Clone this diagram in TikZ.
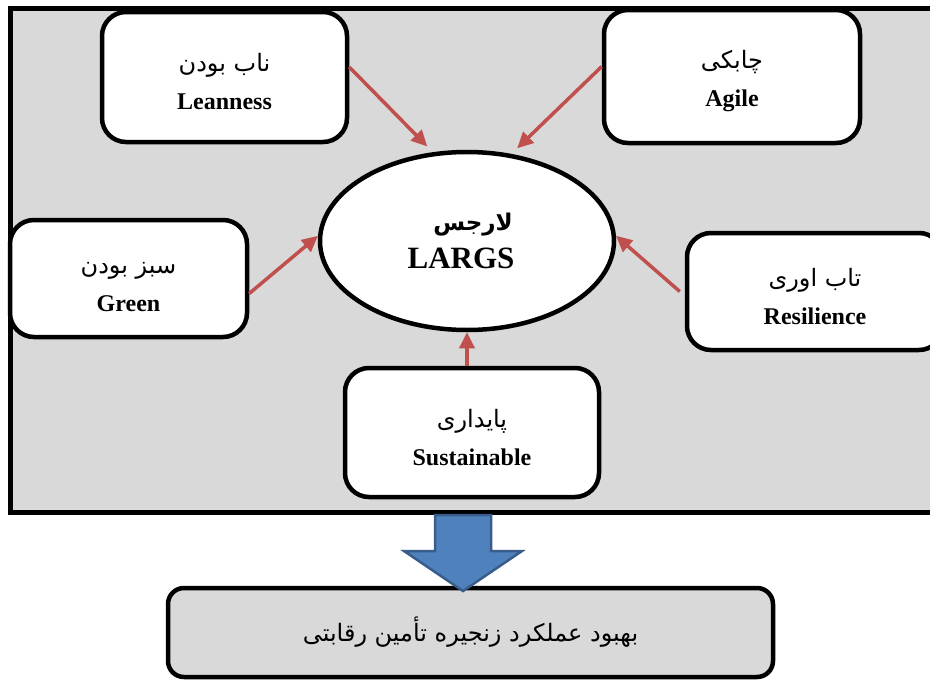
\documentclass[tikz,border=0pt]{standalone}
\usepackage{fontspec}
\setmainfont{Liberation Serif}
\newfontfamily\farsi[Script=Arabic]{DejaVu Sans}
\TeXXeTstate=1
\usetikzlibrary{arrows.meta,shapes.geometric}
\definecolor{panelgray}{HTML}{D9D9D9}
\definecolor{linkred}{HTML}{C0504D}
\definecolor{blockblue}{HTML}{4F81BD}
\definecolor{blockedge}{HTML}{385D8A}
\tikzset{
cbox/.style={draw, line width=4.5pt, rounded corners=24pt, fill=white, align=center, inner sep=0pt, font=\fontsize{24}{28}\selectfont},
link/.style={draw=linkred, line width=3.5pt, -{Triangle[length=16pt,width=15pt]}}
}
\begin{document}
\begin{tikzpicture}[x=1pt,y=-1pt]
\useasboundingbox (0,0) rectangle (930,680);
\draw[line width=5pt, fill=panelgray] (10,8) rectangle (960,512);
\def\di#1#2#3#4#5#6#7{
\node[cbox, minimum width=#4, minimum height=#5] (#1) at (#2,#3) {\rule{0pt}{28pt}{\farsi\fontsize{24}{28}\selectfont #6}\\[10pt]\textbf{#7}};
}
\di{lean}{224.5}{77}{245}{130}{\beginR ناب بودن\endR}{Leanness}
\di{agile}{732}{76.5}{256}{133}{\beginR چابکی\endR}{Agile}
\di{green}{128.5}{278.5}{237}{117}{\beginR سبز بودن\endR}{Green}
\di{resil}{815}{291.5}{256}{117}{\beginR تاب اوری\endR}{Resilience}
\di{sust}{472}{432.5}{254}{129}{\beginR پایداری\endR}{Sustainable}
\node[ellipse, draw, line width=4.5pt, fill=white, minimum width=294, minimum height=178, inner sep=0pt, align=center, font=\fontsize{31}{34}\selectfont\bfseries] (largs) at (467,241) {{\farsi\fontsize{23}{26}\selectfont\bfseries\beginR لارجس\endR}\hspace*{-12pt}\\[4pt]LARGS\hspace*{12pt}};
\draw[link, shorten >=8pt] ([yshift=10pt]lean.east) -- (largs.111);
\draw[link, shorten >=8pt] ([yshift=10pt]agile.west) -- (largs.63);
\draw[link] ([yshift=-15pt]green.east) -- (largs.178);
\draw[link] ([xshift=-5pt]resil.west) -- (largs.2);
\draw[link] (sust.north -| largs.south) -- (largs.south);
\node[draw, line width=4.5pt, rounded corners=16pt, fill=panelgray, minimum width=605, minimum height=89, inner sep=0pt] (goal) at (470.5,632.5) {\farsi\fontsize{24}{28}\selectfont\beginR بهبود عملکرد زنجیره تأمین رقابتی\endR};
\draw[blockedge, fill=blockblue, line width=2.5pt, line join=miter] (435,515) -- (491,515) -- (491,551) -- (522,551) -- (463,591) -- (404,551) -- (435,551) -- cycle;
\end{tikzpicture}
\end{document}
